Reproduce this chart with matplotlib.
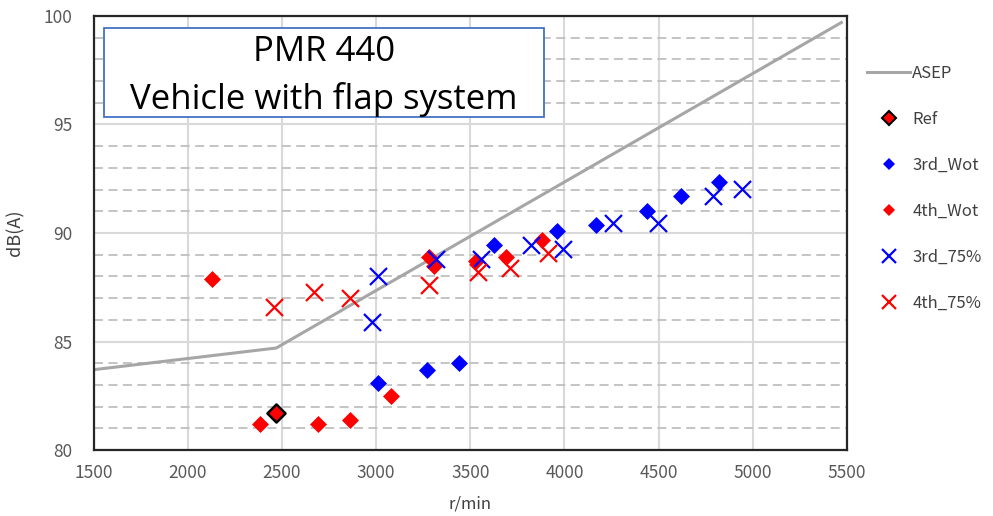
import matplotlib
matplotlib.use("Agg")
import matplotlib.pyplot as plt
from matplotlib.lines import Line2D
from matplotlib.patches import Rectangle

plt.rcParams['font.family'] = ['Noto Sans CJK JP', 'DejaVu Sans']

# ---- data ----
asep_rpm = [1500, 2470, 5470]
asep_db = [83.7, 84.7, 99.7]

ref_rpm = [2470]
ref_db = [81.7]

wot3_rpm = [3010, 3270, 3440, 3625, 3960, 4165, 4440, 4620, 4820]
wot3_db = [83.1, 83.7, 84.0, 89.45, 90.1, 90.35, 91.0, 91.7, 92.35]

wot4_rpm = [2130, 2385, 2690, 2860, 3080, 3280, 3310, 3530, 3690, 3880]
wot4_db = [87.9, 81.2, 81.2, 81.4, 82.5, 88.9, 88.5, 88.7, 88.9, 89.7]

p75_3_rpm = [2980, 3010, 3320, 3555, 3820, 3990, 4260, 4495, 4790, 4940]
p75_3_db = [85.9, 88.0, 88.8, 88.8, 89.45, 89.25, 90.45, 90.45, 91.7, 92.05]

p75_4_rpm = [2460, 2670, 2860, 3280, 3540, 3710, 3910]
p75_4_db = [86.6, 87.3, 87.0, 87.6, 88.2, 88.4, 89.1]

x_ticks = [1500, 2000, 2500, 3000, 3500, 4000, 4500, 5000, 5500]
y_ticks = [80, 85, 90, 95, 100]

title_lines = ["PMR 440", "Vehicle with flap system"]

# ---- figure ----
fig = plt.figure(figsize=(9.93, 5.16), dpi=100)
ax = fig.add_axes([0.0942, 0.1279, 0.7588, 0.8411])

ax.set_xlim(1500, 5500)
ax.set_ylim(80, 100)
ax.set_xticks(x_ticks)
ax.set_yticks(y_ticks)
ax.set_yticks(range(80, 101), minor=True)

ax.grid(which='major', axis='both', color='#d9d9d9', linewidth=1.5, linestyle='-', zorder=0)
ax.grid(which='minor', axis='y', color='#bfbfbf', linewidth=1.3, linestyle=(0, (5, 3)), zorder=0)
ax.set_axisbelow(True)

for s in ax.spines.values():
    s.set_color('#262626')
    s.set_linewidth(1.6)

ax.tick_params(which='both', length=0, colors='#595959', labelsize=12.5)
ax.tick_params(axis='y', pad=15)
ax.tick_params(axis='x', pad=10)

ax.plot(asep_rpm, asep_db, color='#a6a6a6', linewidth=2.2, zorder=2, label='ASEP')
ax.scatter(wot3_rpm, wot3_db, marker='D', s=75, color='#0000ff', linewidths=0, zorder=3, label='3rd_Wot')
ax.scatter(wot4_rpm, wot4_db, marker='D', s=75, color='#ff0000', linewidths=0, zorder=3, label='4th_Wot')
ax.scatter(p75_3_rpm, p75_3_db, marker='x', s=150, color='#0000ff', linewidths=1.6, zorder=3, label='3rd_75%')
ax.scatter(p75_4_rpm, p75_4_db, marker='x', s=150, color='#ff0000', linewidths=1.6, zorder=3, label='4th_75%')
ax.scatter(ref_rpm, ref_db, marker='D', s=85, facecolor='#ff0000', edgecolor='black', linewidths=1.8, zorder=4, label='Ref')

ax.set_xlabel('r/min', color='#404040', fontsize=12, labelpad=10)
ax.set_ylabel('dB(A)', color='#404040', fontsize=13, labelpad=14)

# title box
ax.add_patch(Rectangle((0.014, 0.767), 0.584, 0.205, transform=ax.transAxes,
                       facecolor='white', edgecolor='#4472c4', linewidth=1.3, zorder=5))
ax.text(0.306, 0.917, title_lines[0], transform=ax.transAxes, ha='center', va='center',
        fontsize=25, family=['Open Sans', 'DejaVu Sans'], color='black', zorder=6)
ax.text(0.306, 0.808, title_lines[1], transform=ax.transAxes, ha='center', va='center',
        fontsize=25, family=['Open Sans', 'DejaVu Sans'], color='black', zorder=6)

# legend
handles = [
    Line2D([], [], color='#a6a6a6', linewidth=2.2),
    Line2D([], [], marker='D', linestyle='none', markersize=7, markerfacecolor='#ff0000', markeredgecolor='black', markeredgewidth=1.5),
    Line2D([], [], marker='D', linestyle='none', markersize=6, color='#0000ff', markeredgewidth=0),
    Line2D([], [], marker='D', linestyle='none', markersize=6, color='#ff0000', markeredgewidth=0),
    Line2D([], [], marker='x', linestyle='none', markersize=10, color='#0000ff', markeredgewidth=1.6),
    Line2D([], [], marker='x', linestyle='none', markersize=10, color='#ff0000', markeredgewidth=1.6),
]
labels = ['ASEP', 'Ref', '3rd_Wot', '4th_Wot', '3rd_75%', '4th_75%']
fig.legend(handles, labels, loc='upper left', bbox_to_anchor=(0.873, 0.875), frameon=False,
           fontsize=12, labelcolor='#404040', handlelength=2.6, handletextpad=0.12,
           labelspacing=1.74, borderaxespad=0, borderpad=0)

fig.savefig('out.png', dpi=100)
